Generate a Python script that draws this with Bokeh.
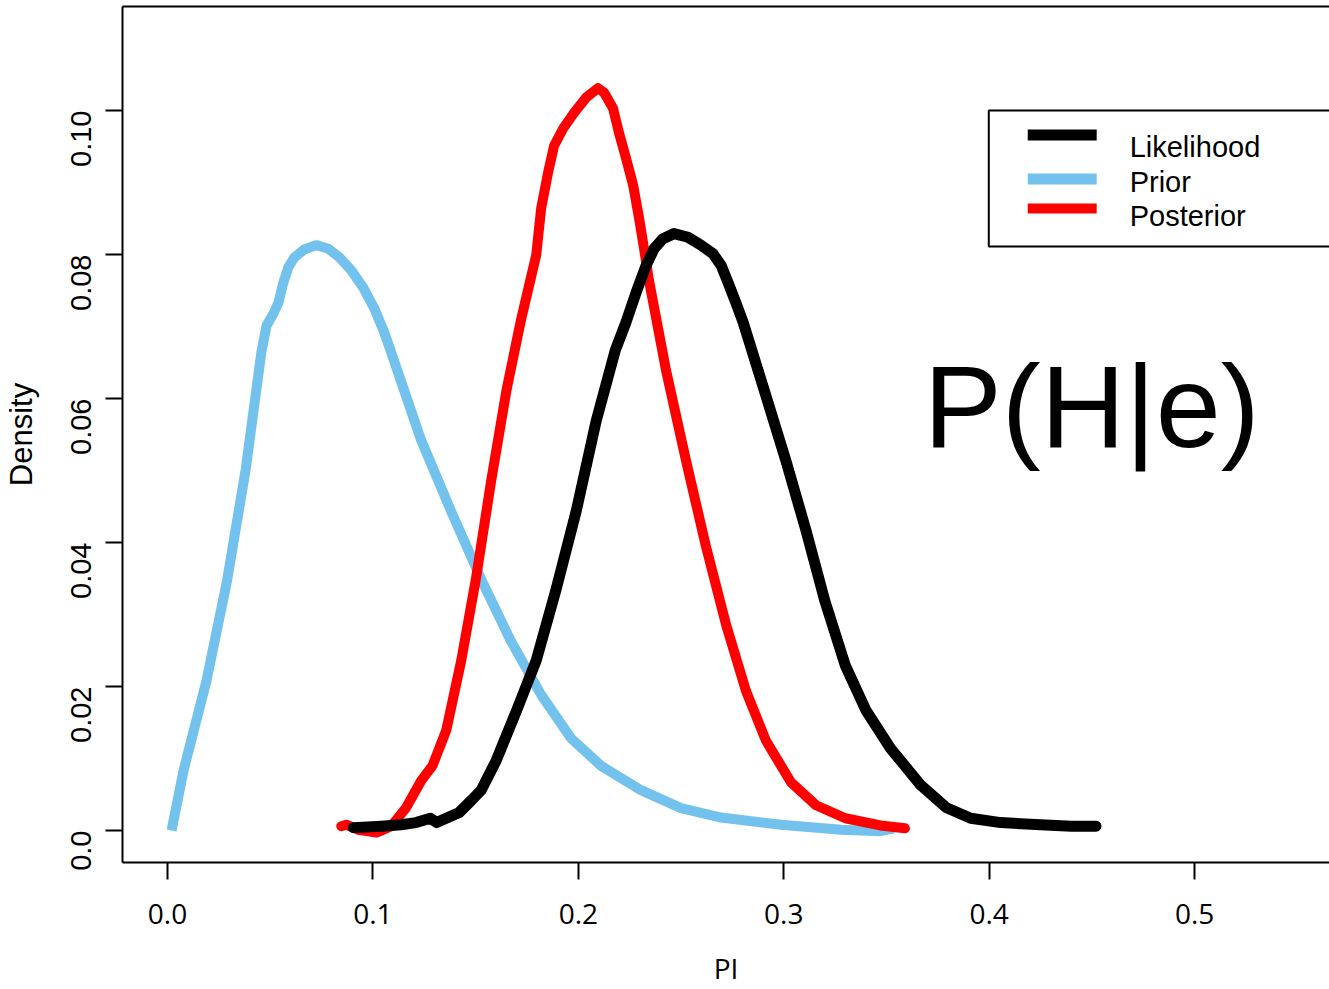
import math
from bokeh.plotting import figure
from bokeh.models import FixedTicker, LinearAxis, BoxAnnotation, Label, Range1d
from bokeh.embed import file_html
from bokeh.resources import INLINE

# ---- data ----
prior_x = [0.002, 0.0078, 0.019, 0.029, 0.038, 0.0457, 0.0482, 0.0516, 0.0540, 0.0564,
           0.0588, 0.0618, 0.0666, 0.0725, 0.0783, 0.0837, 0.0895, 0.0953, 0.1007, 0.1055,
           0.1089, 0.1235, 0.138, 0.153, 0.167, 0.182, 0.1965, 0.211, 0.2305, 0.250,
           0.2695, 0.2986, 0.328, 0.347, 0.3536]
prior_y = [0.0, 0.0083, 0.0208, 0.0347, 0.0500, 0.0664, 0.0701, 0.0718, 0.0733, 0.0761,
           0.0782, 0.0796, 0.0807, 0.0813, 0.0808, 0.0796, 0.0778, 0.0754, 0.0725, 0.0692,
           0.0664, 0.0542, 0.0444, 0.0347, 0.0264, 0.0188, 0.0128, 0.0090, 0.0056, 0.0031,
           0.0018, 0.0008, 0.0001, -0.0001, 0.0003]

post_x = [0.0846, 0.087, 0.093, 0.1017, 0.109, 0.116, 0.1235, 0.129, 0.1357, 0.143,
          0.150, 0.1576, 0.165, 0.172, 0.1795, 0.1819, 0.1853, 0.1882, 0.1926, 0.1980,
          0.2038, 0.2096, 0.2125, 0.2169, 0.2198, 0.2233, 0.2267, 0.2296, 0.2320, 0.2344,
          0.2427, 0.2524, 0.262, 0.272, 0.2816, 0.2913, 0.3035, 0.3157, 0.330, 0.347, 0.359]
post_y = [0.0006, 0.0008, 0.0001, -0.0003, 0.0006, 0.0031, 0.0069, 0.0090, 0.0139, 0.0236,
          0.0347, 0.0486, 0.0611, 0.0708, 0.0799, 0.0864, 0.0914, 0.0951, 0.0975, 0.0997,
          0.1018, 0.1031, 0.1025, 0.1003, 0.0969, 0.0933, 0.0896, 0.0850, 0.0808, 0.0764,
          0.0639, 0.0514, 0.0396, 0.0285, 0.0194, 0.0125, 0.0067, 0.0035, 0.0017, 0.0007, 0.0003]

lik_x = [0.0905, 0.104, 0.1138, 0.121, 0.128, 0.131, 0.1357, 0.142, 0.148, 0.1527,
         0.160, 0.170, 0.1795, 0.189, 0.199, 0.2087, 0.218, 0.2232, 0.2281, 0.2330,
         0.2369, 0.2412, 0.2466, 0.2534, 0.2597, 0.2656, 0.2695, 0.2729, 0.2767, 0.2802,
         0.2913, 0.301, 0.3108, 0.320, 0.330, 0.340, 0.352, 0.3667, 0.379, 0.391,
         0.4056, 0.425, 0.440, 0.452]
lik_y = [0.0004, 0.0006, 0.0008, 0.0011, 0.0017, 0.0011, 0.0017, 0.0025, 0.0042, 0.0056,
         0.0097, 0.0167, 0.0236, 0.0333, 0.0444, 0.0569, 0.0667, 0.0706, 0.0747, 0.0785,
         0.0808, 0.0822, 0.0829, 0.0824, 0.0813, 0.0801, 0.0785, 0.0761, 0.0733, 0.0706,
         0.0604, 0.0514, 0.0417, 0.0319, 0.0229, 0.0167, 0.0114, 0.0063, 0.0032, 0.0017,
         0.0011, 0.0008, 0.0006, 0.0006]

x_ticks = [0.0, 0.1, 0.2, 0.3, 0.4, 0.5]
x_tick_labels = ["0.0", "0.1", "0.2", "0.3", "0.4", "0.5"]
y_ticks = [0.0, 0.02, 0.04, 0.06, 0.08, 0.10]
y_tick_labels = ["0.0", "0.02", "0.04", "0.06", "0.08", "0.10"]

legend_labels = ["Likelihood", "Prior", "Posterior"]
series_colors = ["#000000", "#73C2EE", "#FF0000"]
annotation_text = "P(H|e)"
x_title = "PI"
y_title = "Density"

# ---- pixel -> data helpers for decorations (canvas pixel positions) ----
def px2x(px):
    return (px - 166) / 2056.0

def px2y(py):
    return (830 - py) / 7200.0

p = figure(width=1329, height=989,
           x_range=Range1d(px2x(121), px2x(1329)),
           y_range=Range1d(px2y(862), px2y(6)),
           output_backend="svg", toolbar_location=None,
           min_border_left=121, min_border_right=0, min_border_top=6,
           min_border_bottom=127,
           x_axis_label=x_title, y_axis_label=y_title)
p.background_fill_color = "white"
p.border_fill_color = "white"
p.outline_line_color = None
p.xgrid.visible = False
p.ygrid.visible = False

# axes
for ax in (p.xaxis[0], p.yaxis[0]):
    ax.axis_line_width = 2
    ax.axis_line_color = "black"
    ax.major_tick_line_width = 2
    ax.major_tick_line_color = "black"
    ax.major_tick_out = 17
    ax.major_tick_in = 0
    ax.minor_tick_line_color = None
    ax.axis_label_text_font_style = "normal"
    ax.axis_label_text_color = "black"
    ax.major_label_text_color = "black"

xa = p.xaxis[0]
xa.ticker = FixedTicker(ticks=x_ticks)
xa.major_label_overrides = {t: l for t, l in zip(x_ticks, x_tick_labels)}
xa.major_label_text_font = "Open Sans"
xa.major_label_text_font_size = "28px"
xa.major_label_standoff = 24
xa.axis_label_text_font = "Open Sans"
xa.axis_label_text_font_size = "28px"
xa.axis_label_standoff = 22

ya = p.yaxis[0]
ya.ticker = FixedTicker(ticks=y_ticks)
ya.major_label_overrides = {t: l for t, l in zip(y_ticks, y_tick_labels)}
ya.major_label_orientation = math.pi / 2
ya.major_label_text_font = "Liberation Sans"
ya.major_label_text_font_size = "29px"
ya.major_label_standoff = 25
ya.axis_label_text_font = "Liberation Sans"
ya.axis_label_text_font_size = "31px"
ya.axis_label_standoff = 19

# top border via an empty axis
top = LinearAxis(ticker=FixedTicker(ticks=[]), major_tick_out=0, major_tick_in=0,
                 minor_tick_line_color=None, major_label_text_font_size="0px",
                 axis_line_width=2, axis_line_color="black")
p.add_layout(top, "above")

# curves
p.line(prior_x, prior_y, line_color=series_colors[1], line_width=10, line_join="round", line_cap="butt")
p.line(post_x, post_y, line_color=series_colors[2], line_width=10, line_join="round", line_cap="round")
p.line(lik_x, lik_y, line_color=series_colors[0], line_width=11, line_join="round", line_cap="round")

# legend (drawn manually to match base-R layout)
p.add_layout(BoxAnnotation(left=px2x(988), right=px2x(1345), top=px2y(110), bottom=px2y(246),
                           fill_color=None, fill_alpha=0, line_color="black", line_alpha=1,
                           line_width=2))
sample_rows = [(129, 140), (173, 184), (203, 213)]
text_rows = [146, 181, 215]
for (t, b), c, ty, lab in zip(sample_rows, series_colors, text_rows, legend_labels):
    p.add_layout(BoxAnnotation(left=px2x(1027), right=px2x(1096), top=px2y(t), bottom=px2y(b),
                               fill_color=c, fill_alpha=1, line_color=None))
    p.add_layout(Label(x=px2x(1129), y=px2y(ty), text=lab, text_font="Liberation Sans",
                       text_font_size="29px", text_baseline="middle", text_color="black"))

p.add_layout(Label(x=px2x(923), y=px2y(406), text=annotation_text, text_font="Liberation Sans",
                   text_font_size="117px", text_baseline="middle", text_color="black"))

open("out.html", "w").write(file_html(p, INLINE))
